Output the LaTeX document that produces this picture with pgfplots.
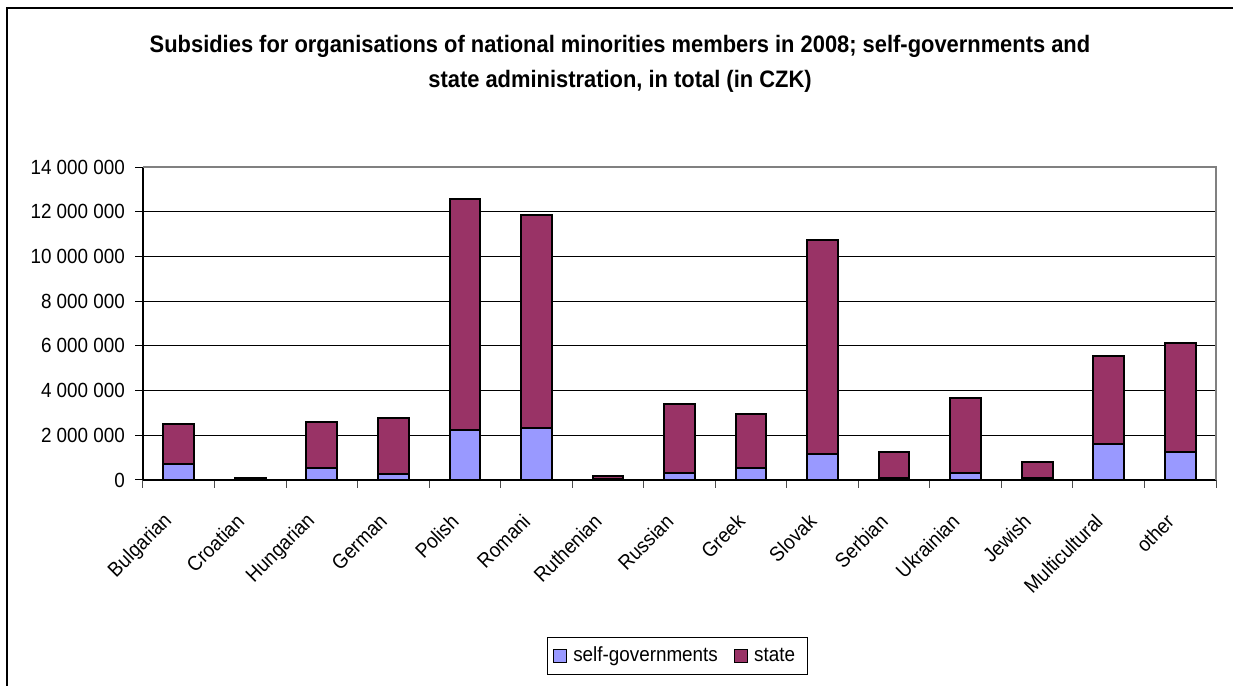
\documentclass[border=0pt]{standalone}
\usepackage{pgfplots}
\pgfplotsset{compat=1.18}
\usepackage{fontspec}
\setmainfont{Liberation Sans}[FakeStretch=0.92]
\definecolor{selfc}{HTML}{9999FF}
\definecolor{statec}{HTML}{993366}
\begin{document}
\begin{tikzpicture}
\path[use as bounding box] (0,0) rectangle (616.5pt,343pt);
\draw[line width=1pt] (3.5pt,0) -- (3.5pt,339pt) -- (616.5pt,339pt);
\node[align=center, font=\fontsize{11.9}{17.5}\selectfont\bfseries] at (310pt,311pt)
  {Subsidies for organisations of national minorities members in 2008; self-governments and\\ state administration, in total (in CZK)};
\begin{axis}[
  at={(71.5pt,103pt)}, anchor=south west,
  scale only axis, width=536.5pt, height=156.5pt,
  ybar stacked, bar width=0.43,
  xmin=-0.5, xmax=14.5, ymin=0, ymax=14000000,
  scaled y ticks=false,
  axis line style={line width=0.6pt},
  axis x line*=bottom, axis y line*=left,
  xtick={0,...,14},
  xticklabels={Bulgarian,Croatian,Hungarian,German,Polish,Romani,Ruthenian,Russian,Greek,Slovak,Serbian,Ukrainian,Jewish,Multicultural,other},
  x tick style={draw=none},
  minor xtick={-0.5,0.5,...,14.5},
  minor x tick style={draw=black!70, line width=0.5pt},
  minor tick length=4pt,
  xticklabel style={xshift=-2.5pt, yshift=-12.5pt, rotate=45, anchor=east, font=\fontsize{10.25}{11}\selectfont},
  ytick={0,2000000,4000000,6000000,8000000,10000000,12000000,14000000},
  yticklabels={0,2 000 000,4 000 000,6 000 000,8 000 000,10 000 000,12 000 000,14 000 000},
  yticklabel style={font=\fontsize{10.25}{11}\selectfont, xshift=-1.5pt},
  y tick style={line width=0.5pt, black},
  major tick length=4pt,
  tick align=outside,
  ymajorgrids, grid style={black, line width=0.5pt},
  legend style={at={(0.4977,-0.5623)}, anchor=center, legend columns=2, draw=black, line width=0.5pt,
    font=\fontsize{10.25}{11}\selectfont, inner xsep=3pt, inner ysep=3pt,
    nodes={inner xsep=3pt},
    /tikz/every even column/.append style={column sep=5pt}},
  legend image code/.code={\draw[#1, line width=0.6pt] (0pt,-3.25pt) rectangle (6.5pt,3.25pt);},
  after end axis/.code={\draw[gray, line width=0.8pt] (rel axis cs:0,1) -- (rel axis cs:1,1) -- (rel axis cs:1,0);},
]
\addplot[fill=selfc, draw=black, line width=1pt] coordinates {
(0,700000) (1,20000) (2,520000) (3,270000) (4,2230000) (5,2320000) (6,30000) (7,330000)
(8,520000) (9,1150000) (10,70000) (11,330000) (12,70000) (13,1610000) (14,1240000)};
\addplot[fill=statec, draw=black, line width=1pt] coordinates {
(0,1800000) (1,80000) (2,2090000) (3,2520000) (4,10330000) (5,9520000) (6,150000) (7,3070000)
(8,2430000) (9,9600000) (10,1180000) (11,3350000) (12,730000) (13,3940000) (14,4870000)};
\legend{self-governments,state}
\end{axis}
\end{tikzpicture}
\end{document}
